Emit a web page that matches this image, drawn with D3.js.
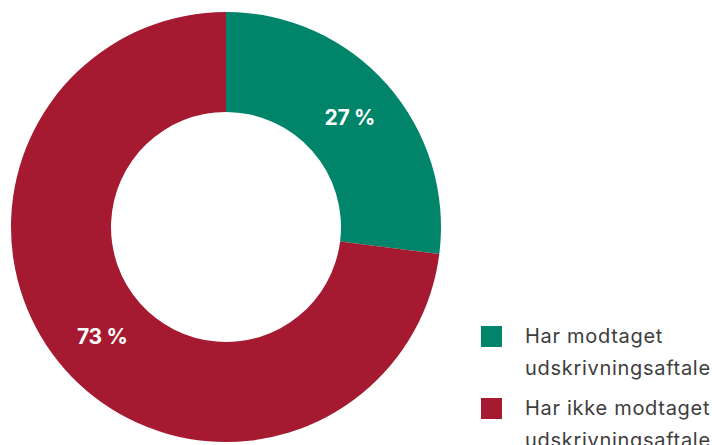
<!DOCTYPE html>
<html><head><meta charset="utf-8">
<script src="https://cdn.jsdelivr.net/npm/d3@7"></script>
<style>html,body{margin:0;padding:0;background:#fff;}svg{display:block;}</style>
</head><body>
<svg id="c" width="712" height="445"></svg>
<script>
const categories = ["Har modtaget udskrivningsaftale", "Har ikke modtaget udskrivningsaftale"];
const legendLines = [["Har modtaget", "udskrivningsaftale"], ["Har ikke modtaget", "udskrivningsaftale"]];
const values = [27, 73];
const colors = ["#00856a", "#a51a30"];

const svg = d3.select("#c");
const cx = 226, cy = 227, rOuter = 215, rInner = 115;
const pie = d3.pie().sort(null).value(d => d)(values);
const arc = d3.arc().innerRadius(rInner).outerRadius(rOuter);
const g = svg.append("g").attr("transform", `translate(${cx},${cy})`);
g.selectAll("path").data(pie).join("path")
  .attr("d", arc).attr("fill", (d, i) => colors[i]);
g.selectAll("text").data(pie).join("text")
  .attr("transform", d => `translate(${arc.centroid(d)})`)
  .attr("text-anchor", "middle").attr("dy", "0.36em")
  .attr("fill", "#fff").attr("font-family", "Inter, 'Liberation Sans', sans-serif")
  .attr("font-weight", 700).attr("font-size", 21).attr("letter-spacing", "-0.3px")
  .text(d => d.data + " %");

const lg = svg.append("g").attr("font-family", "Inter, 'Liberation Sans', sans-serif")
  .attr("font-size", 20).attr("letter-spacing", "0.7px").attr("fill", "#3d3d3d");
legendLines.forEach((lines, i) => {
  const y0 = 326 + i * 72;
  lg.append("rect").attr("x", 481).attr("y", y0).attr("width", 21).attr("height", 21).attr("fill", colors[i]);
  lines.forEach((t, j) => {
    lg.append("text").attr("x", 525).attr("y", y0 + 16.7 + j * 32).text(t);
  });
});
</script>
</body></html>
